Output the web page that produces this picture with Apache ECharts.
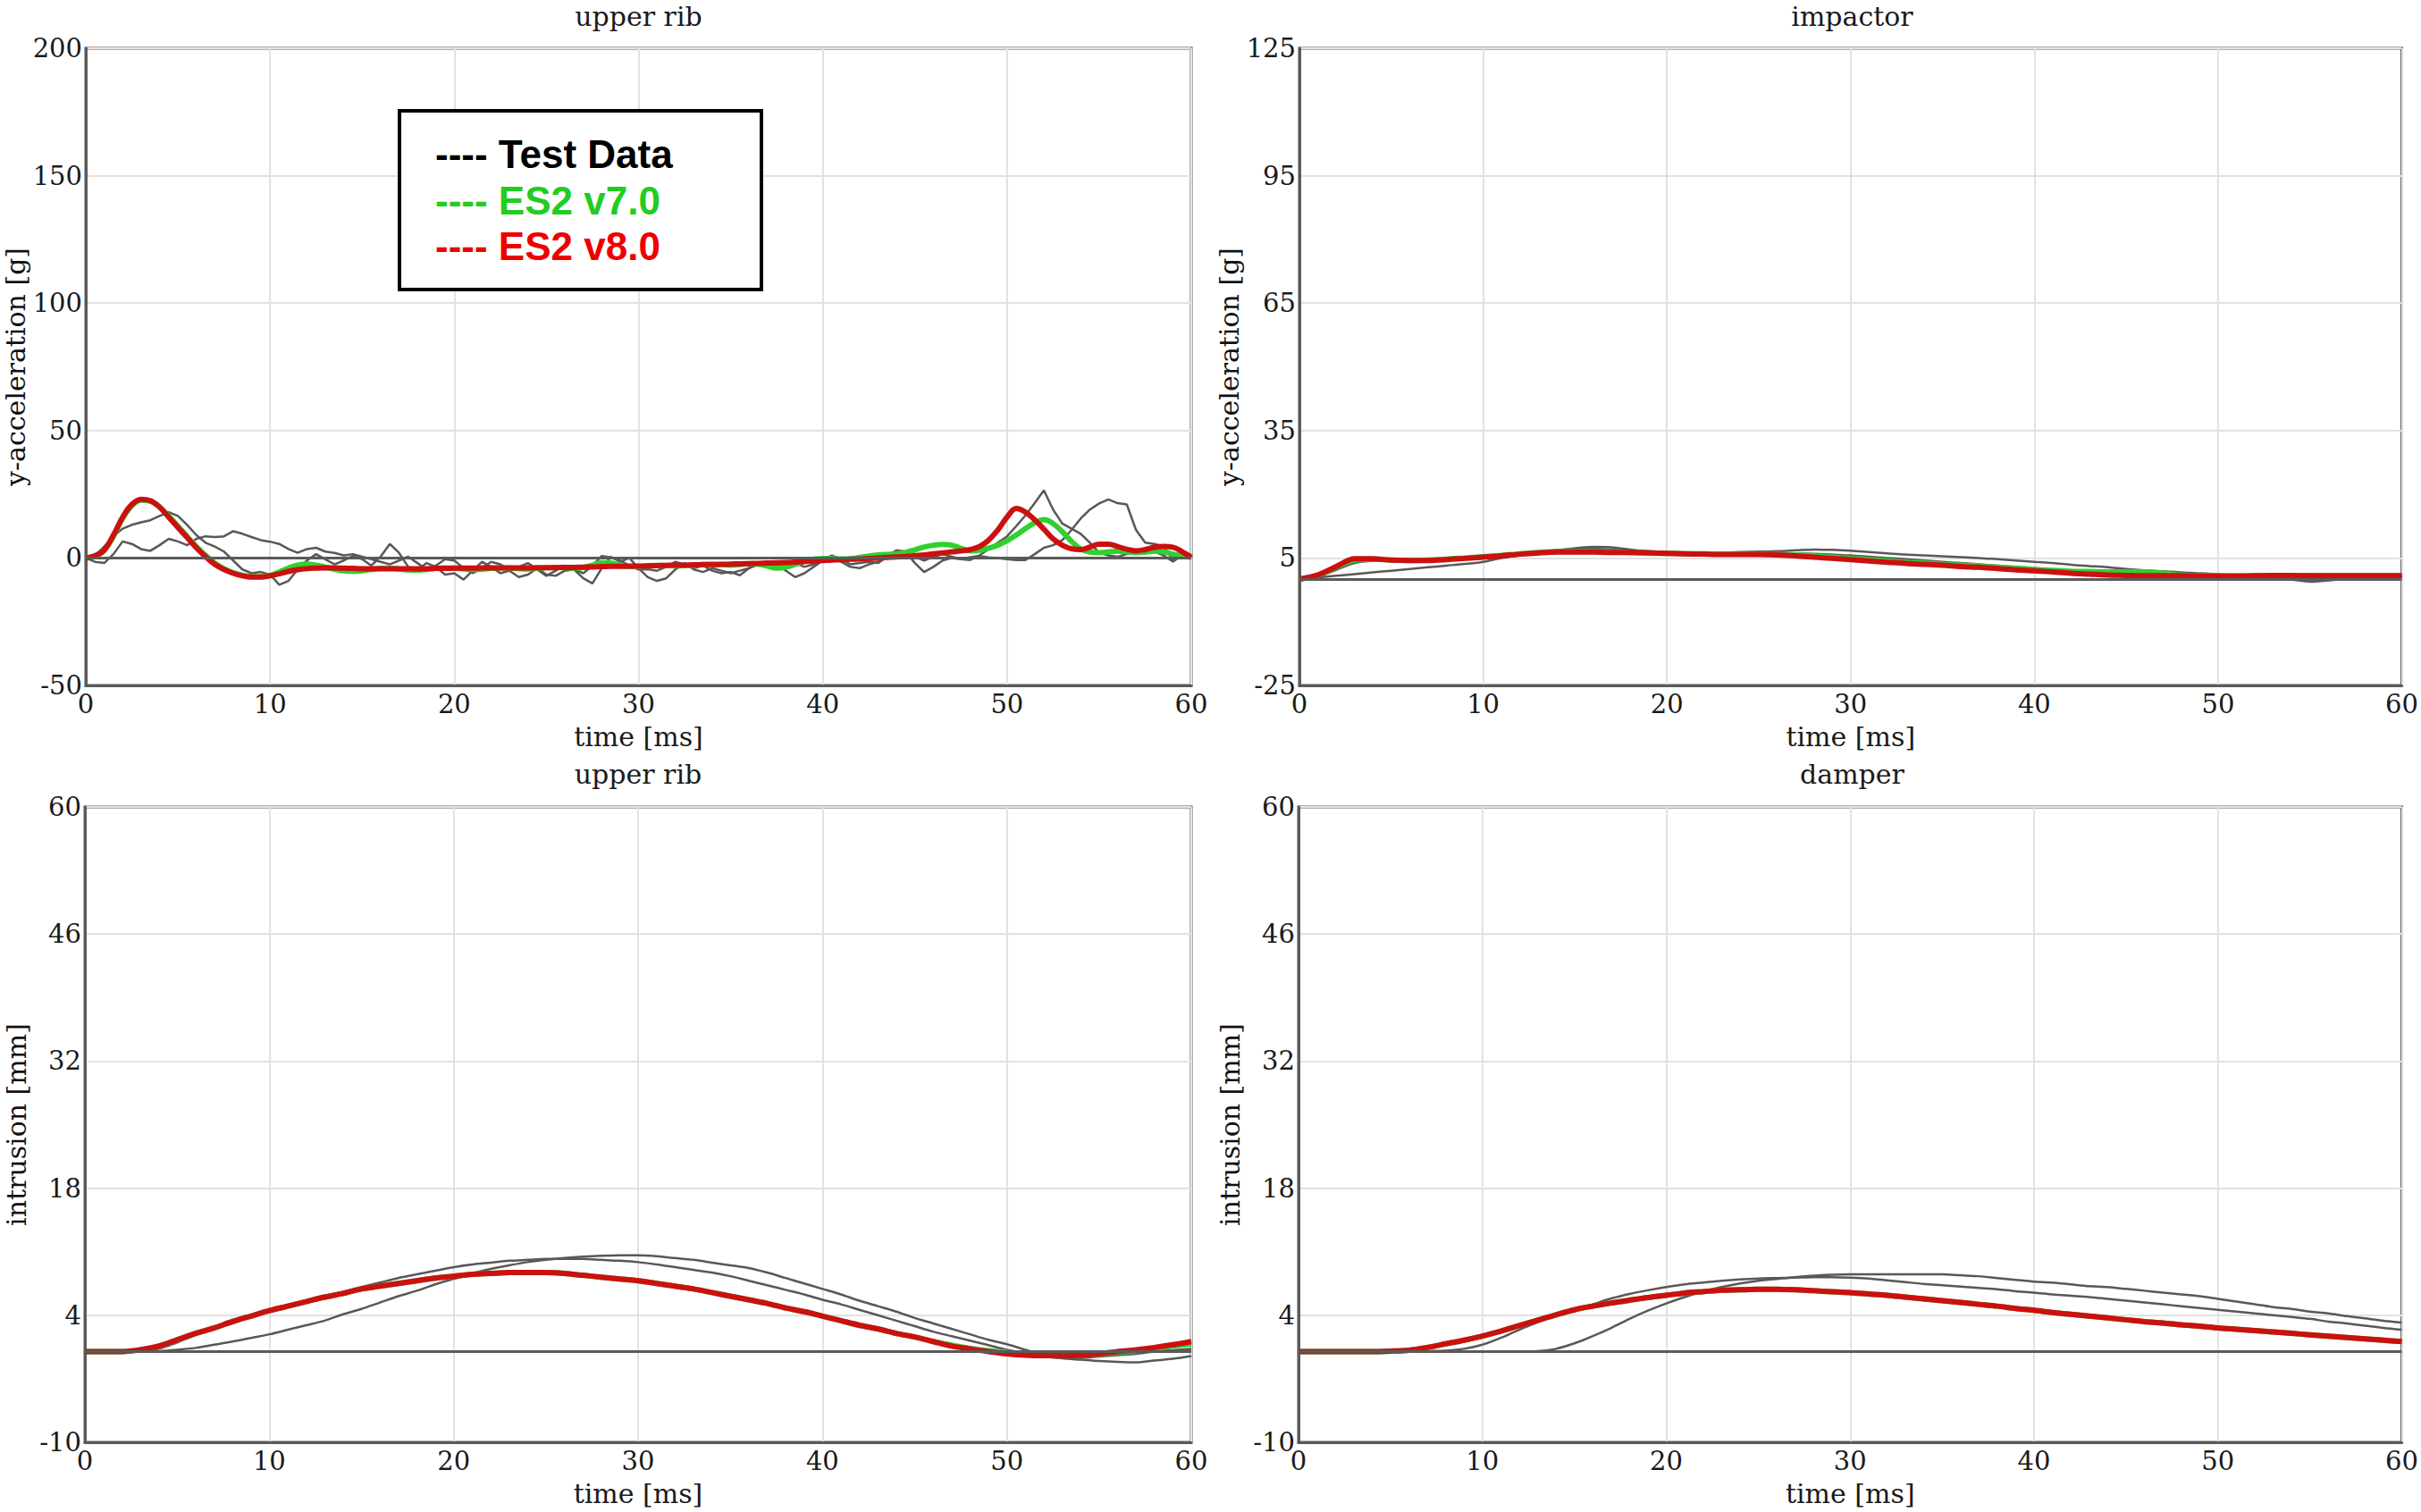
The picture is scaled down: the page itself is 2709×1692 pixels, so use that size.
<!DOCTYPE html>
<html>
<head>
<meta charset="utf-8">
<script src="https://cdn.jsdelivr.net/npm/echarts@6.0.0/dist/echarts.min.js"></script>
<style>
html,body{margin:0;padding:0;background:#fff;}
#chart{width:2709px;height:1692px;}
</style>
</head>
<body>
<div id="chart"></div>
<script>
// ---------------- DATA ----------------
const xTicks = [0, 10, 20, 30, 40, 50, 60];
const yTicksTL = [-50, 0, 50, 100, 150, 200];
const yTicksTR = [-25, 5, 35, 65, 95, 125];
const yTicksBottom = [-10, 4, 18, 32, 46, 60];

const legendNames = ['Test Data', 'ES2 v7.0', 'ES2 v8.0'];
const panelTitles = ['upper rib', 'impactor', 'upper rib', 'damper'];

// top-left: upper rib y-acceleration [g], sampled every 0.5 ms
const tlTime = [
  0,0.5,1,1.5,2,2.5,3,3.5,4,4.5,
  5,5.5,6,6.5,7,7.5,8,8.5,9,9.5,
  10,10.5,11,11.5,12,12.5,13,13.5,14,14.5,
  15,15.5,16,16.5,17,17.5,18,18.5,19,19.5,
  20,20.5,21,21.5,22,22.5,23,23.5,24,24.5,
  25,25.5,26,26.5,27,27.5,28,28.5,29,29.5,
  30,30.5,31,31.5,32,32.5,33,33.5,34,34.5,
  35,35.5,36,36.5,37,37.5,38,38.5,39,39.5,
  40,40.5,41,41.5,42,42.5,43,43.5,44,44.5,
  45,45.5,46,46.5,47,47.5,48,48.5,49,49.5,
  50,50.5,51,51.5,52,52.5,53,53.5,54,54.5,
  55,55.5,56,56.5,57,57.5,58,58.5,59,59.5,
  60];
const tlTest1 = [
  0,1,4.5,8.5,11.5,13,14,14.8,16.5,18,
  16.5,13,9,6,4.5,2.5,-1,-4.5,-6,-5.5,
  -6.5,-10.5,-9,-4.5,-1,1.5,-0.5,-2.5,-1,0.8,
  -0.5,-3,0.5,5.5,2,-3.5,-4.8,-2,-3.5,-6.5,
  -6,-8.5,-5,-1.5,-3.5,-6,-5,-7.5,-6.5,-4,
  -6.5,-7,-5,-4.5,-8,-10,-4,0.5,-1.5,0,
  -4,-7.5,-9,-8,-4.5,-2,-4.5,-5.5,-4,-5,
  -6,-5,-4,-2,-1.5,-2.5,-5,-7.5,-6,-3.5,
  -1,0.8,-1.5,-3.5,-4,-2.5,-1.5,1,3,2.5,
  -2,-5.5,-3.5,-1,0,-0.5,-0.8,1,3.5,6,
  8.5,12.5,16.7,21.5,26.5,19,13.5,11.5,9.5,6,
  2,1,0.5,1.5,2.5,3,2.5,1,-1.4,1,
  0];
const tlTest2 = [
  0,-1.5,-2,1.5,6.5,5.5,3.5,2.8,5,7.5,
  6.5,5,7.5,8.5,8.2,8.5,10.5,9.5,8.2,7,
  6.4,5.5,3.5,2,3.5,4,2.5,2,1,1.5,
  0.5,-0.5,-1.5,-2.5,-1,0.5,-2,-4.5,-3,-0.5,
  -1,-4,-6,-4,-1.5,-2.5,-4.5,-3.5,-2,-4.5,
  -7,-5,-3,-4.5,-6,-3,0.8,0.2,-1,-3,
  -4.5,-4.4,-5,-3.5,-1.5,-2.5,-4,-3,-5,-6,
  -5.5,-6.8,-4,-2.5,-3.5,-4,-3,-2,-3.5,-2.5,
  -0.5,1,-0.5,-2.5,-2,-1.5,-2,0.5,2.5,1.8,
  0.5,-1,0.5,1.5,0.5,-0.5,0.3,0.8,0.2,0,
  -0.5,-0.8,-0.8,1.5,4,5,7,11,15.5,19,
  21.4,23,21.5,21,11,6,5.5,4.5,-0.8,2.5,
  0];
const tlV7 = [
  0,0.8,3,8.5,15.5,20.5,22.7,22.3,20,16.5,
  12.5,8.5,4.5,1,-2,-4.2,-5.8,-6.8,-7.3,-7.3,
  -6.8,-5.5,-4,-2.8,-2.4,-2.8,-3.6,-4.4,-5,-5.2,
  -5,-4.5,-4.1,-4,-4.3,-4.7,-4.8,-4.5,-4.1,-3.9,
  -4,-4.3,-4.5,-4.4,-4.1,-3.9,-4,-4.2,-4.3,-4.1,
  -3.8,-3.7,-3.8,-4,-3.7,-2.8,-1.9,-2,-2.8,-3.4,
  -3.3,-3,-2.9,-3,-3.1,-3,-2.8,-2.6,-2.5,-2.6,
  -2.8,-2.6,-2.2,-2.4,-3.2,-4,-3.6,-2.5,-1.3,-0.5,
  -0.2,-0.2,-0.4,-0.3,0.2,0.8,1.2,1.4,1.6,2.2,
  3.2,4.3,5,5.3,5,3.8,2.8,3,3.9,5,
  6.8,9,11.5,13.8,15,13.5,10.3,6.5,3.5,2.3,
  2.1,2.4,2.7,2.4,2.1,2.3,2.7,2.4,1.5,0.8,
  0.2];
const tlV8 = [
  0,0.8,3,9,16,21,23,22.5,20,16,
  12,8,4,0.5,-2.5,-4.5,-6,-7,-7.5,-7.5,
  -7,-6.2,-5.3,-4.6,-4.2,-4,-3.9,-3.9,-4,-4.1,
  -4.2,-4.2,-4.2,-4.2,-4.2,-4.2,-4.2,-4.2,-4.1,-4.1,
  -4,-4,-4,-3.9,-3.9,-3.9,-3.9,-3.9,-3.9,-3.8,
  -3.8,-3.8,-3.7,-3.7,-3.6,-3.5,-3.4,-3.3,-3.3,-3.2,
  -3.2,-3.1,-3,-2.9,-2.8,-2.8,-2.7,-2.6,-2.6,-2.5,
  -2.4,-2.3,-2.2,-2.1,-2,-1.9,-1.8,-1.6,-1.4,-1.2,
  -1,-0.8,-0.7,-0.5,-0.4,-0.2,0,0.2,0.4,0.6,
  0.9,1.2,1.6,2,2.4,2.8,3.3,4.5,7,11,
  16,19.4,18,15,11.3,7.5,5,3.6,3.3,4.3,
  5.4,5.4,4.5,3.4,2.8,3.3,4.2,4.5,4.2,2.5,
  0.3];

// 1 ms sampling for the other three panels
const msTime = [
  0,1,2,3,4,5,6,7,8,9,
  10,11,12,13,14,15,16,17,18,19,
  20,21,22,23,24,25,26,27,28,29,
  30,31,32,33,34,35,36,37,38,39,
  40,41,42,43,44,45,46,47,48,49,
  50,51,52,53,54,55,56,57,58,59,
  60];

// top-right: impactor y-acceleration [g]
const trTest1 = [
  0,0.4,0.8,1.2,1.6,2.0,2.4,2.8,3.2,3.6,
  4.1,5.0,5.6,6.2,6.8,7.3,7.6,7.5,7.0,6.6,
  6.4,6.3,6.3,6.3,6.4,6.5,6.6,6.8,7.0,6.9,
  6.7,6.4,6.1,5.8,5.6,5.4,5.2,5.0,4.7,4.4,
  4.1,3.8,3.4,3.1,2.8,2.4,2.1,1.9,1.6,1.4,
  1.2,0.9,0.6,0.3,-0.1,-0.6,-0.3,0.2,0.4,0.5,
  0.5];
const trTest2 = [
  0,0.6,2.2,3.8,4.3,4.3,4.3,4.4,4.6,4.9,
  5.2,5.6,6.0,6.4,6.8,7.1,7.2,7.0,6.7,6.4,
  6.3,6.2,6.1,6.1,6.1,6.1,6.1,6.1,6.0,5.8,
  5.6,5.3,5.0,4.7,4.4,4.1,3.8,3.5,3.2,2.9,
  2.6,2.3,2.0,1.7,1.4,1.2,1.1,1.0,0.9,0.8,
  0.7,0.6,0.4,0.3,0.4,0.5,0.6,0.7,0.7,0.7,
  0.7];
const trV7 = [
  0,0.9,2.8,4.5,4.7,4.5,4.4,4.5,4.7,5.0,
  5.3,5.6,6.0,6.3,6.5,6.5,6.5,6.4,6.3,6.2,
  6.1,6.0,6.0,5.9,5.9,5.9,5.8,5.7,5.5,5.2,
  4.9,4.6,4.3,4.0,3.8,3.5,3.3,3.1,2.8,2.6,
  2.3,2.1,1.9,1.8,1.7,1.7,1.7,1.4,1.0,0.8,
  0.8,0.8,0.8,0.9,0.9,0.9,0.8,0.8,0.8,0.8,
  0.8];
const trV8 = [
  0,1.0,3.0,4.8,4.8,4.5,4.4,4.4,4.6,4.9,
  5.2,5.5,5.9,6.2,6.4,6.4,6.4,6.3,6.3,6.2,
  6.1,6.0,5.9,5.8,5.8,5.8,5.7,5.5,5.2,4.9,
  4.6,4.3,4.0,3.7,3.5,3.3,3.0,2.8,2.5,2.2,
  2.0,1.7,1.4,1.2,1.0,0.9,0.8,0.8,0.8,0.7,
  0.7,0.7,0.8,0.9,0.9,0.8,0.8,0.8,0.8,0.8,
  0.8];

// bottom-left: upper rib intrusion [mm]
const blTest1 = [
  0,0,0,0,0.05,0.2,0.4,0.75,1.1,1.5,
  1.9,2.4,2.9,3.4,4.1,4.7,5.4,6.1,6.7,7.4,
  8.0,8.6,9.1,9.5,9.85,10.1,10.3,10.45,10.55,10.6,
  10.6,10.5,10.3,10.1,9.8,9.5,9.2,8.7,8.1,7.5,
  6.9,6.3,5.6,5.0,4.4,3.7,3.1,2.5,1.9,1.3,
  0.8,0.2,-0.4,-0.75,-0.9,-1.05,-1.15,-1.2,-1.0,-0.8,
  -0.5];
const blTest2 = [
  0,0,0,0.05,0.3,1.0,1.8,2.5,3.1,3.8,
  4.4,5.0,5.5,6.1,6.6,7.1,7.6,8.1,8.5,8.9,
  9.3,9.6,9.8,10.0,10.1,10.2,10.2,10.2,10.1,10.0,
  9.85,9.6,9.3,9.0,8.7,8.3,7.8,7.3,6.8,6.3,
  5.7,5.2,4.6,4.0,3.4,2.8,2.2,1.7,1.2,0.7,
  0.2,-0.2,-0.55,-0.7,-0.7,-0.55,-0.4,-0.25,0.0,0.15,
  0.3];
const blV7 = [
  0,0,0,0.2,0.6,1.3,2.0,2.6,3.3,3.9,
  4.5,5.0,5.5,6.0,6.4,6.9,7.2,7.5,7.8,8.1,
  8.3,8.5,8.6,8.7,8.7,8.7,8.6,8.4,8.2,8.0,
  7.8,7.5,7.2,6.9,6.5,6.1,5.7,5.3,4.8,4.4,
  3.9,3.4,2.9,2.5,2.0,1.6,1.1,0.7,0.35,0.1,
  -0.1,-0.3,-0.4,-0.45,-0.4,-0.3,-0.1,0.1,0.35,0.6,
  0.85];
const blV8 = [
  0,0,0,0.2,0.6,1.3,2.0,2.6,3.3,3.9,
  4.5,5.0,5.5,6.0,6.4,6.9,7.2,7.5,7.8,8.1,
  8.3,8.5,8.6,8.7,8.7,8.7,8.6,8.4,8.2,8.0,
  7.8,7.5,7.2,6.9,6.5,6.1,5.7,5.3,4.8,4.4,
  3.9,3.4,2.9,2.5,2.0,1.6,1.1,0.6,0.3,0.0,
  -0.25,-0.4,-0.45,-0.45,-0.4,-0.25,0.0,0.2,0.45,0.75,
  1.1];

// bottom-right: damper intrusion [mm]
const brTest1 = [
  0,0,0,0,0,0,0,0,0,0,
  0,0,0,0.05,0.3,0.9,1.7,2.6,3.6,4.5,
  5.3,6.0,6.6,7.1,7.5,7.8,8.0,8.2,8.35,8.45,
  8.5,8.5,8.5,8.5,8.5,8.5,8.4,8.3,8.1,7.9,
  7.7,7.6,7.4,7.2,7.1,6.9,6.7,6.5,6.3,6.1,
  5.8,5.5,5.2,4.9,4.7,4.4,4.2,3.9,3.65,3.4,
  3.2];
const brTest2 = [
  0,0,0,0,0,0,0,0.05,0.1,0.3,
  0.75,1.5,2.4,3.2,3.95,4.6,5.2,5.85,6.35,6.75,
  7.1,7.4,7.6,7.8,7.95,8.05,8.1,8.15,8.2,8.2,
  8.15,8.05,7.85,7.65,7.45,7.3,7.15,7.0,6.85,6.65,
  6.5,6.3,6.15,6.0,5.8,5.6,5.4,5.2,5.0,4.8,
  4.6,4.4,4.2,4.0,3.8,3.6,3.3,3.1,2.85,2.6,
  2.4];
const brV7 = [
  0,0,0,0,0,0.05,0.15,0.45,0.85,1.25,
  1.7,2.25,2.85,3.45,4.05,4.6,5.0,5.35,5.65,5.95,
  6.2,6.45,6.6,6.75,6.8,6.85,6.85,6.8,6.7,6.6,
  6.5,6.35,6.2,6.0,5.8,5.6,5.4,5.2,5.0,4.75,
  4.55,4.3,4.1,3.9,3.7,3.5,3.3,3.15,2.95,2.8,
  2.6,2.45,2.3,2.15,2.0,1.85,1.7,1.55,1.4,1.25,
  1.1];
const brV8 = [
  0,0,0,0,0,0.05,0.15,0.45,0.85,1.25,
  1.7,2.25,2.85,3.45,4.05,4.6,5.0,5.35,5.65,5.95,
  6.2,6.45,6.6,6.75,6.8,6.85,6.85,6.8,6.7,6.6,
  6.5,6.35,6.2,6.0,5.8,5.6,5.4,5.2,5.0,4.75,
  4.55,4.3,4.1,3.9,3.7,3.5,3.3,3.15,2.95,2.8,
  2.6,2.45,2.3,2.15,2.0,1.85,1.7,1.55,1.4,1.25,
  1.1];

// ---------------- CHART ----------------
const SERIF = 'DejaVu Serif';
const TXT = '#1a1a1a';
const FRAME = '#5a5a5a';
const GRIDC = '#e2e2e2';
const grids = [
  {left: 96,   top: 54,  width: 1237, height: 713},
  {left: 1454, top: 54,  width: 1237, height: 713},
  {left: 95,   top: 903, width: 1238, height: 711},
  {left: 1453, top: 903, width: 1239, height: 711}
];

function pairs(t, v) { return t.map((x, i) => [x, v[i]]); }

function xAxisFor(i) {
  return {
    type: 'value', gridIndex: i, min: 0, max: 60, interval: 10,
    name: 'time [ms]', nameLocation: 'middle', nameGap: 42,
    nameTextStyle: {fontFamily: SERIF, fontSize: 30, color: TXT},
    axisLine: {show: true, onZero: false, lineStyle: {color: FRAME, width: 3}},
    axisTick: {show: false},
    axisLabel: {fontFamily: SERIF, fontSize: 29, color: TXT, margin: 6, customValues: xTicks},
    splitLine: {show: true, lineStyle: {color: GRIDC, width: 2}}
  };
}
function yAxisFor(i, name, ticks) {
  const mn = ticks[0], mx = ticks[ticks.length - 1];
  return {
    type: 'value', gridIndex: i, min: mn, max: mx,
    name: name, nameLocation: 'middle', nameGap: 62,
    nameTextStyle: {fontFamily: SERIF, fontSize: 30, color: '#111'},
    axisLine: {show: true, onZero: false, lineStyle: {color: FRAME, width: 3}},
    axisTick: {show: false, customValues: ticks},
    axisLabel: {fontFamily: SERIF, fontSize: 29, color: TXT, margin: 4, customValues: ticks},
    splitLine: {show: true, lineStyle: {color: GRIDC, width: 2}}
  };
}

const styles = {
  test: {color: '#585858', width: 2.5, z: 2},
  v7:   {color: '#2fd12f', width: 6, z: 3},
  v8:   {color: '#cc1010', width: 6, z: 4}
};

function mk(gi, kind, name, time, vals, smooth, zero) {
  const s = styles[kind];
  const ser = {
    type: 'line', name: name, xAxisIndex: gi, yAxisIndex: gi,
    data: pairs(time, vals), showSymbol: false, symbol: 'none',
    smooth: smooth, z: s.z, animation: false, silent: true,
    lineStyle: {color: s.color, width: s.width},
    itemStyle: {color: s.color}
  };
  if (zero) {
    ser.markLine = {
      silent: true, symbol: ['none', 'none'], animation: false,
      label: {show: false},
      lineStyle: {color: FRAME, width: 3, type: 'solid'},
      data: [{yAxis: 0}]
    };
  }
  return ser;
}

const series = [
  mk(0, 'test', legendNames[0], tlTime, tlTest1, false, true),
  mk(0, 'test', legendNames[0], tlTime, tlTest2, false, false),
  mk(0, 'v7', legendNames[1], tlTime, tlV7, 0.4, false),
  mk(0, 'v8', legendNames[2], tlTime, tlV8, 0.4, false),

  mk(1, 'test', legendNames[0], msTime, trTest1, 0.3, true),
  mk(1, 'test', legendNames[0], msTime, trTest2, 0.3, false),
  mk(1, 'v7', legendNames[1], msTime, trV7, 0.3, false),
  mk(1, 'v8', legendNames[2], msTime, trV8, 0.3, false),

  mk(2, 'test', legendNames[0], msTime, blTest1, 0.3, true),
  mk(2, 'test', legendNames[0], msTime, blTest2, 0.3, false),
  mk(2, 'v7', legendNames[1], msTime, blV7, 0.3, false),
  mk(2, 'v8', legendNames[2], msTime, blV8, 0.3, false),

  mk(3, 'test', legendNames[0], msTime, brTest1, 0.3, true),
  mk(3, 'test', legendNames[0], msTime, brTest2, 0.3, false),
  mk(3, 'v7', legendNames[1], msTime, brV7, 0.3, false),
  mk(3, 'v8', legendNames[2], msTime, brV8, 0.3, false)
];

const titles = panelTitles.map((t, i) => ({
  text: t,
  left: grids[i].left + grids[i].width / 2,
  top: i < 2 ? 3 : 851,
  textAlign: 'center',
  padding: 0,
  textStyle: {fontFamily: SERIF, fontSize: 30, fontWeight: 'normal', color: TXT}
}));

const LEGFONT = 'bold 44px "Liberation Sans", Arial, sans-serif';
const legendColors = ['#000000', '#22cc22', '#ee0000'];
const legendY = [175, 227, 278];

const option = {
  backgroundColor: '#ffffff',
  animation: false,
  title: titles,
  grid: grids.map(g => Object.assign({show: true, borderColor: FRAME, borderWidth: 3, backgroundColor: 'transparent'}, g)),
  xAxis: [0, 1, 2, 3].map(xAxisFor),
  yAxis: [
    yAxisFor(0, 'y-acceleration [g]', yTicksTL),
    yAxisFor(1, 'y-acceleration [g]', yTicksTR),
    yAxisFor(2, 'intrusion [mm]', yTicksBottom),
    yAxisFor(3, 'intrusion [mm]', yTicksBottom)
  ],
  series: series,
  graphic: [
    {type: 'rect', left: 445, top: 122, z: 100,
     shape: {width: 405, height: 200},
     style: {fill: '#ffffff', stroke: '#000000', lineWidth: 4}},
  ].concat(legendNames.map((n, i) => ({
    type: 'text', z: 101, left: 487, top: legendY[i] - 25,
    style: {text: '---- ' + n, font: LEGFONT, fill: legendColors[i]}
  })))
};

const chart = echarts.init(document.getElementById('chart'), null, {renderer: 'svg', width: 2709, height: 1692});
chart.setOption(option);
</script>
</body>
</html>
